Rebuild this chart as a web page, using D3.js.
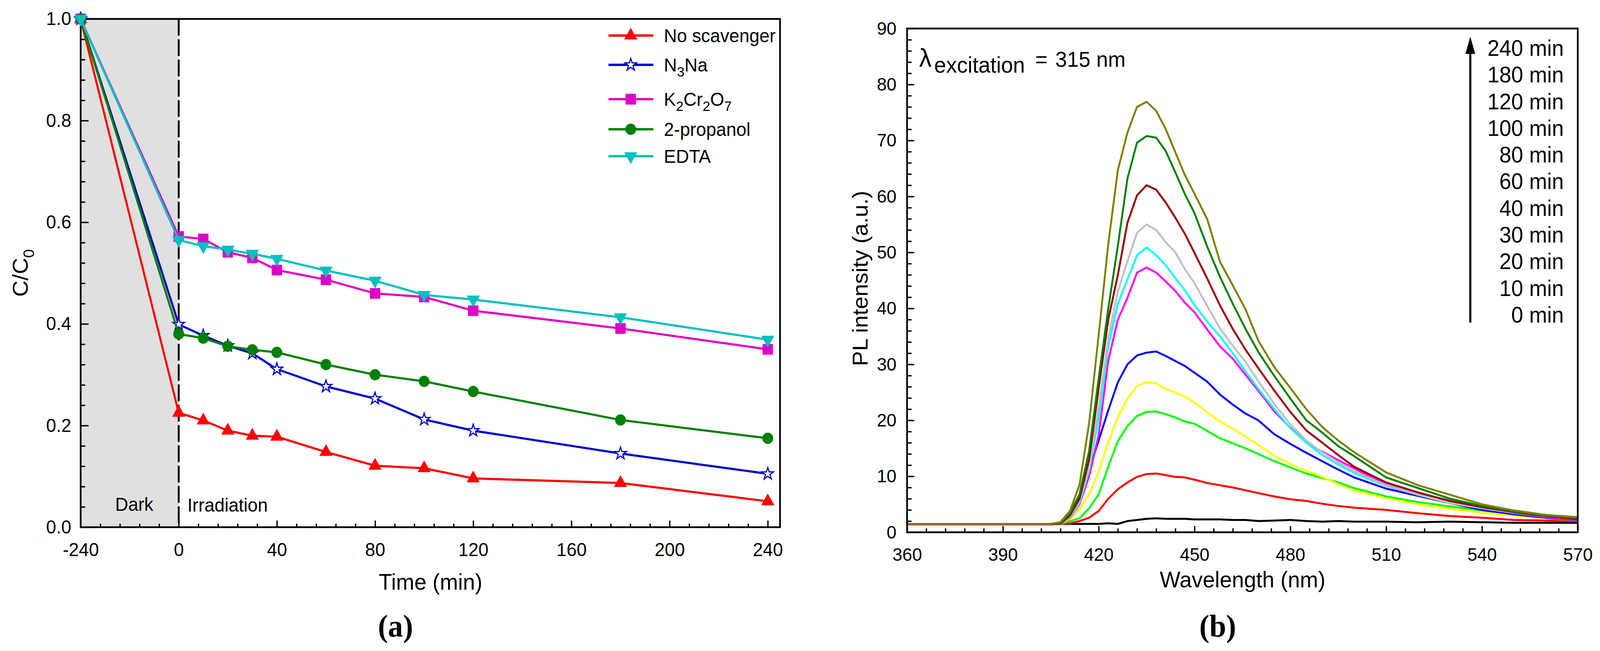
<!DOCTYPE html>
<html>
<head>
<meta charset="utf-8">
<script src="https://cdn.jsdelivr.net/npm/d3@7"></script>
<style>
html, body { margin:0; padding:0; width:100%; height:100%; overflow:hidden; background:#fff; }
#fig { display:block; width:100vw; height:100vh; }
text { font-family:"Liberation Sans", Arial, sans-serif; fill:#000; }
</style>
</head>
<body>
<svg id="fig"></svg>
<script>
// Data, panel (a): C/C0 vs time
var timeA = [-240, 0, 10, 20, 30, 40, 60, 80, 100, 120, 180, 240];
var noScavenger = [1.0, 0.225, 0.210, 0.190, 0.180, 0.178, 0.148, 0.121, 0.116, 0.096, 0.087, 0.051];
var n3na        = [1.0, 0.399, 0.377, 0.357, 0.342, 0.311, 0.277, 0.253, 0.212, 0.190, 0.145, 0.105];
var k2cr2o7     = [1.0, 0.572, 0.567, 0.541, 0.530, 0.506, 0.487, 0.460, 0.453, 0.426, 0.391, 0.350];
var propanol    = [1.0, 0.380, 0.372, 0.356, 0.349, 0.344, 0.320, 0.300, 0.287, 0.267, 0.211, 0.175];
var edta        = [1.0, 0.565, 0.553, 0.546, 0.538, 0.528, 0.505, 0.485, 0.457, 0.448, 0.413, 0.369];
var xTicksA = [-240, 0, 40, 80, 120, 160, 200, 240];
var yTicksA = [0, 0.2, 0.4, 0.6, 0.8, 1.0];

// Data, panel (b): PL spectra
var wl = [360,380,400,405,408,411,414,417,420,423,426,429,432,435,438,441,444,447,450,454,458,462,466,470,475,480,485,490,495,500,510,520,530,540,550,560,570];
var spec0   = [1.5,1.5,1.5,1.5,1.5,1.5,1.5,1.5,1.5,1.6,1.5,2.0,2.2,2.4,2.5,2.4,2.4,2.4,2.3,2.3,2.3,2.2,2.2,2.0,2.1,2.2,2.0,1.9,2.0,1.9,1.9,1.8,1.9,1.8,1.7,1.7,1.7];
var spec10  = [1.5,1.5,1.5,1.5,1.5,1.6,2.0,2.6,3.8,6.0,7.7,8.9,9.9,10.4,10.5,10.2,9.9,9.8,9.4,8.8,8.4,8.0,7.5,7.0,6.4,5.9,5.6,5.1,4.7,4.4,4.0,3.4,2.9,2.6,2.2,2.1,2.0];
var spec20  = [1.4,1.4,1.4,1.4,1.5,2.0,2.5,4.3,6.8,11.8,16.3,19.0,20.8,21.5,21.6,21.1,20.5,19.8,19.4,18.1,16.8,15.9,15.0,14.0,12.7,11.6,10.5,9.7,8.9,7.9,6.4,5.4,4.6,3.9,3.2,2.7,2.1];
var spec30  = [1.4,1.4,1.4,1.4,1.5,2.4,4.1,6.8,10.9,16.1,20.7,23.9,26.1,26.8,26.6,25.6,25.0,24.2,23.2,21.4,19.8,18.5,17.1,15.6,13.7,12.2,11.0,9.9,8.6,7.5,6.1,5.0,4.2,3.5,3.0,2.5,2.1];
var spec40  = [1.5,1.5,1.5,1.5,1.6,3.0,6.3,11.2,16.4,21.8,26.8,30.0,31.6,32.1,32.3,31.5,30.6,29.7,28.5,26.9,24.6,22.8,21.2,20.0,17.5,15.8,14.2,12.7,11.2,9.8,7.8,6.5,5.2,4.0,3.2,2.6,2.1];
var spec60  = [1.4,1.4,1.4,1.4,1.5,2.6,5.0,10.0,17.4,30.7,38.0,41.9,46.4,47.3,46.4,44.8,43.1,41.0,39.3,36.2,33.2,31.0,28.1,25.3,21.6,18.7,16.0,14.4,12.9,11.4,8.5,6.7,5.3,4.3,3.4,2.7,2.1];
var spec80  = [1.5,1.5,1.5,1.5,1.5,2.7,5.2,11.0,20.5,33.3,40.8,45.2,49.5,50.9,49.5,47.7,45.4,43.2,40.6,37.6,35.0,32.0,28.7,25.6,22.0,18.6,16.0,13.8,12.1,10.6,8.3,6.7,5.4,4.3,3.5,2.9,2.3];
var spec100 = [1.5,1.5,1.5,1.5,1.5,2.8,5.5,11.5,22.5,34.6,43.0,48.4,53.5,55.0,54.0,51.8,50.0,47.0,44.5,40.4,36.4,33.3,30.4,27.0,22.9,19.3,16.4,14.3,12.5,10.9,8.4,6.7,5.2,4.3,3.6,2.9,2.3];
var spec120 = [1.5,1.5,1.5,1.5,1.5,3.0,6.0,13.0,25.8,38.0,46.0,55.3,60.2,62.0,61.2,58.9,56.2,53.3,49.9,45.3,40.5,36.3,32.6,29.3,25.3,21.5,18.2,16.0,13.8,11.7,8.9,7.1,5.6,4.5,3.6,2.9,2.3];
var spec180 = [1.5,1.5,1.5,1.5,1.6,3.4,6.8,14.5,27.5,40.0,51.2,63.2,69.6,70.8,70.5,68.1,64.3,60.4,57.0,51.0,45.6,40.8,36.3,32.2,27.9,23.9,20.0,17.8,15.4,13.6,9.8,7.9,6.0,4.7,3.7,3.0,2.5];
var spec240 = [1.5,1.5,1.5,1.5,1.8,3.8,8.5,19.5,35.3,51.5,64.7,71.4,76.0,76.9,75.3,72.0,67.9,63.8,60.5,55.9,48.3,44.1,39.8,34.2,29.5,25.8,22.0,18.8,16.4,14.3,10.7,8.4,6.7,5.0,3.9,3.1,2.7];
var specTimes = [0, 10, 20, 30, 40, 60, 80, 100, 120, 180, 240];
var xTicksB = [360, 390, 420, 450, 480, 510, 540, 570];
var yTicksB = [0, 10, 20, 30, 40, 50, 60, 70, 80, 90];


var W = 4244, H = 1667;
// viewBox stretched onto the window so the figure fills it edge to edge
var svg = d3.select("#fig").attr("viewBox", "0 0 " + W + " " + H).attr("preserveAspectRatio", "none");
svg.append("rect").attr("width", W).attr("height", H).attr("fill", "#fff");


// Panel (a)

var xA = d3.scaleLinear().domain([-240, 0, 245]).range([214, 474, 2069]);
var yA = d3.scaleLinear().domain([0, 1]).range([1350, 48.5]);

var seriesA = [
	{name:[["No scavenger",0]], v:noScavenger, color:"#ff0000", sym:d3.symbolTriangle, size:480, rot:0, fill:"#ff0000"},
	{name:[["N",0],["3",1],["Na",0]], v:n3na, color:"#0000cc", sym:d3.symbolStar, size:300, rot:0, fill:"#fff"},
	{name:[["K",0],["2",1],["Cr",0],["2",1],["O",0],["7",1]], v:k2cr2o7, color:"#e000c8", sym:d3.symbolSquare, size:700, rot:0, fill:"#e000c8"},
	{name:[["2-propanol",0]], v:propanol, color:"#008000", sym:d3.symbolCircle, size:620, rot:0, fill:"#008000"},
	{name:[["EDTA",0]], v:edta, color:"#00c0c0", sym:d3.symbolTriangle, size:480, rot:180, fill:"#00c0c0"}
];

var ga = svg.append("g");

// dark period
ga.append("rect")
	.attr("x", xA(-240)).attr("y", yA(1))
	.attr("width", xA(0) - xA(-240)).attr("height", yA(0) - yA(1))
	.attr("fill", "#e0e0e0");

function minorTicks(lo, hi, step, majors) {
	return d3.range(lo, hi + step / 2, step).filter(function(t){
		return !majors.some(function(m){ return Math.abs(m - t) < 1e-9; });
	});
}

function styleAxis(g, fs) {
	g.select(".domain").remove();
	g.selectAll(".tick line").attr("stroke", "#000").attr("stroke-width", 3.5);
	g.selectAll("text").style("font-size", fs + "px").style("font-family", '"Liberation Sans", Arial, sans-serif');
}

var minorXA = minorTicks(-240, 0, 48, xTicksA).concat(minorTicks(0, 240, 8, xTicksA));
var minorYA = minorTicks(0, 1, 0.04, yTicksA);

ga.append("g").attr("transform", "translate(0," + yA(0) + ")")
	.call(d3.axisBottom(xA).tickValues(minorXA).tickFormat("").tickSize(-9))
	.call(styleAxis, 48);
ga.append("g").attr("transform", "translate(0," + yA(0) + ")")
	.call(d3.axisBottom(xA).tickValues(xTicksA).tickFormat(function(d){ return String(d); }).tickSize(-17).tickPadding(40))
	.call(styleAxis, 48);
ga.append("g").attr("transform", "translate(" + xA(-240) + ",0)")
	.call(d3.axisLeft(yA).tickValues(minorYA).tickFormat("").tickSize(-12))
	.call(styleAxis, 48);
ga.append("g").attr("transform", "translate(" + xA(-240) + ",0)")
	.call(d3.axisLeft(yA).tickValues(yTicksA).tickFormat(d3.format(".1f")).tickSize(-21).tickPadding(25))
	.call(styleAxis, 48);

// frame
ga.append("rect")
	.attr("x", xA(-240)).attr("y", yA(1))
	.attr("width", xA(245) - xA(-240)).attr("height", yA(0) - yA(1))
	.attr("fill", "none").attr("stroke", "#000").attr("stroke-width", 4.5);

// dark / light boundary
ga.append("line")
	.attr("x1", xA(0)).attr("x2", xA(0)).attr("y1", yA(1)).attr("y2", yA(0))
	.attr("stroke", "#000").attr("stroke-width", 5).attr("stroke-dasharray", "43,9");

ga.append("text").attr("x", 356).attr("y", 1308).attr("text-anchor", "middle")
	.style("font-size", "48px").text("Dark");
ga.append("text").attr("x", 497).attr("y", 1310)
	.style("font-size", "48px").text("Irradiation");

var lineA = d3.line()
	.x(function(d){ return xA(d[0]); })
	.y(function(d){ return yA(d[1]); });

seriesA.forEach(function(s){
	var pts = timeA.map(function(t, i){ return [t, s.v[i]]; });
	ga.append("path").datum(pts).attr("d", lineA)
		.attr("fill", "none").attr("stroke", s.color).attr("stroke-width", 5.5);
	ga.selectAll(null).data(pts).enter().append("path")
		.attr("d", d3.symbol().type(s.sym).size(s.size))
		.attr("transform", function(d){ return "translate(" + xA(d[0]) + "," + yA(d[1]) + ")rotate(" + s.rot + ")"; })
		.attr("fill", s.fill).attr("stroke", s.color).attr("stroke-width", s.fill == "#fff" ? 3 : 1);
});

// legend (a)
var legRowY = [91, 166, 254, 331, 400];
seriesA.forEach(function(s, i){
	var y = legRowY[i];
	ga.append("line").attr("x1", 1614).attr("x2", 1733).attr("y1", y).attr("y2", y)
		.attr("stroke", s.color).attr("stroke-width", 6);
	ga.append("path")
		.attr("d", d3.symbol().type(s.sym).size(s.size))
		.attr("transform", "translate(1673," + y + ")rotate(" + s.rot + ")")
		.attr("fill", s.fill).attr("stroke", s.color).attr("stroke-width", s.fill == "#fff" ? 3 : 1);
	var t = ga.append("text").attr("x", 1761).attr("y", y + 17).style("font-size", "48px");
	var sub = false;
	s.name.forEach(function(p){
		var ts = t.append("tspan").text(p[0]);
		if (p[1] && !sub) { ts.attr("dy", 13).style("font-size", "36px"); sub = true; }
		else if (!p[1] && sub) { ts.attr("dy", -13); sub = false; }
		else if (p[1]) { ts.style("font-size", "36px"); }
	});
});

// axis titles (a)
ga.append("text").attr("x", 1142).attr("y", 1510).attr("text-anchor", "middle")
	.style("font-size", "58px").text("Time (min)");
var yt = ga.append("text").attr("transform", "translate(74,699)rotate(-90)")
	.attr("text-anchor", "middle").style("font-size", "58px");
yt.append("tspan").text("C/C");
yt.append("tspan").attr("dy", 16).style("font-size", "40px").text("0");


// Panel (b)

var xB = d3.scaleLinear().domain([360, 570]).range([2406, 4185]);
var yB = d3.scaleLinear().domain([0, 90]).range([1363, 73]);

var specs = [spec0, spec10, spec20, spec30, spec40, spec60, spec80, spec100, spec120, spec180, spec240];
var specColors = ["#000000", "#ff0000", "#00ff00", "#ffff00", "#0000ff", "#ff00ff", "#00ffff", "#c0c0c0", "#990000", "#008000", "#808000"];

var gb = svg.append("g");

gb.append("g").attr("transform", "translate(0," + yB(0) + ")")
	.call(d3.axisBottom(xB).tickValues(minorTicks(360, 570, 6, xTicksB)).tickFormat("").tickSize(-10))
	.call(styleAxis, 47);
gb.append("g").attr("transform", "translate(0," + yB(0) + ")")
	.call(d3.axisBottom(xB).tickValues(xTicksB).tickFormat(d3.format("d")).tickSize(-16).tickPadding(40))
	.call(styleAxis, 47);
gb.append("g").attr("transform", "translate(" + xB(360) + ",0)")
	.call(d3.axisLeft(yB).tickValues(minorTicks(0, 90, 2, yTicksB)).tickFormat("").tickSize(-12))
	.call(styleAxis, 47);
gb.append("g").attr("transform", "translate(" + xB(360) + ",0)")
	.call(d3.axisLeft(yB).tickValues(yTicksB).tickFormat(d3.format("d")).tickSize(-19).tickPadding(28))
	.call(styleAxis, 47);

var lineB = d3.line()
	.x(function(d){ return xB(d[0]); })
	.y(function(d){ return yB(d[1]); });

specs.forEach(function(s, k){
	var pts = wl.map(function(w, i){ return [w, s[i]]; });
	gb.append("path").datum(pts).attr("d", lineB)
		.attr("fill", "none").attr("stroke", specColors[k]).attr("stroke-width", 5)
		.attr("stroke-linejoin", "round");
});

gb.append("rect")
	.attr("x", xB(360)).attr("y", yB(90))
	.attr("width", xB(570) - xB(360)).attr("height", yB(0) - yB(90))
	.attr("fill", "none").attr("stroke", "#000").attr("stroke-width", 4.5);

// excitation note
gb.append("text").attr("x", 2438).attr("y", 171).style("font-size", "66px").text("λ");
gb.append("text").attr("x", 2478).attr("y", 186).style("font-size", "57px").text("excitation");
gb.append("text").attr("x", 2746).attr("y", 171).style("font-size", "56px").text("=");
gb.append("text").attr("x", 2799).attr("y", 171).style("font-size", "56px").text("315 nm");

// time arrow + labels
gb.append("line").attr("x1", 3900).attr("x2", 3900).attr("y1", 826).attr("y2", 120)
	.attr("stroke", "#000").attr("stroke-width", 5.5);
gb.append("path").attr("d", "M3900,94L3913,138L3887,138Z").attr("fill", "#000");

specTimes.slice().reverse().forEach(function(t, i){
	gb.append("text").attr("x", 4148).attr("y", 143 + i * 68.3).attr("text-anchor", "end")
		.style("font-size", "57px").text(t + " min");
});

// axis titles (b)
gb.append("text").attr("x", 3296).attr("y", 1504).attr("text-anchor", "middle")
	.style("font-size", "58px").text("Wavelength (nm)");
gb.append("text").attr("transform", "translate(2301,713)rotate(-90)").attr("text-anchor", "middle")
	.style("font-size", "58px").text("PL intensity (a.u.)");


// panel captions
svg.append("text").attr("x", 1049).attr("y", 1630).attr("text-anchor", "middle")
	.style("font-family", '"Liberation Serif", "Times New Roman", serif').style("font-weight", "bold")
	.style("font-size", "80px").text("(a)");
svg.append("text").attr("x", 3230).attr("y", 1630).attr("text-anchor", "middle")
	.style("font-family", '"Liberation Serif", "Times New Roman", serif').style("font-weight", "bold")
	.style("font-size", "80px").text("(b)");
</script>
</body>
</html>
